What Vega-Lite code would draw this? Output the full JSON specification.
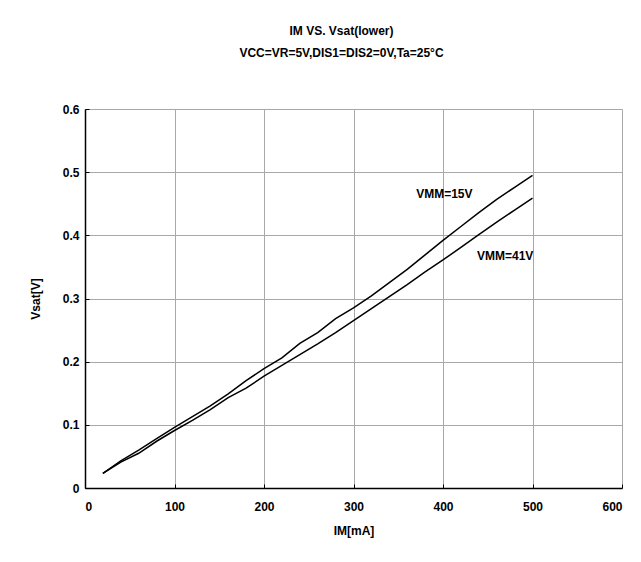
{
  "$schema": "https://vega.github.io/schema/vega-lite/v6.json",
  "width": 537,
  "height": 379,
  "autosize": {"type": "none"},
  "padding": {"left": 85, "top": 109, "right": 19, "bottom": 74},
  "background": "white",
  "config": {
    "view": {"stroke": null},
    "font": "Liberation Sans",
    "axis": {
      "labelFont": "Liberation Sans",
      "labelFontWeight": "bold",
      "labelFontSize": 12,
      "labelColor": "black",
      "titleFont": "Liberation Sans",
      "titleFontWeight": "bold",
      "titleFontSize": 12,
      "titleColor": "black",
      "gridColor": "#a8a8a8",
      "gridWidth": 1,
      "gridOpacity": 1,
      "domainColor": "black",
      "domainWidth": 1.5,
      "tickColor": "black",
      "tickSize": -4,
      "tickWidth": 1
    }
  },
  "title": {
    "text": ["IM VS. Vsat(lower)", "VCC=VR=5V,DIS1=DIS2=0V,Ta=25°C"],
    "font": "Liberation Sans",
    "fontSize": 12,
    "fontWeight": "bold",
    "color": "black",
    "anchor": "middle",
    "baseline": "bottom",
    "lineHeight": 22,
    "offset": 31,
    "dx": -12
  },
  "datasets": {
    "curves": [
      {"im": 20, "vsat": 0.023, "series": "VMM=15V"},
      {"im": 40, "vsat": 0.043, "series": "VMM=15V"},
      {"im": 60, "vsat": 0.060, "series": "VMM=15V"},
      {"im": 80, "vsat": 0.078, "series": "VMM=15V"},
      {"im": 100, "vsat": 0.096, "series": "VMM=15V"},
      {"im": 120, "vsat": 0.113, "series": "VMM=15V"},
      {"im": 140, "vsat": 0.130, "series": "VMM=15V"},
      {"im": 160, "vsat": 0.149, "series": "VMM=15V"},
      {"im": 180, "vsat": 0.170, "series": "VMM=15V"},
      {"im": 200, "vsat": 0.189, "series": "VMM=15V"},
      {"im": 220, "vsat": 0.206, "series": "VMM=15V"},
      {"im": 240, "vsat": 0.229, "series": "VMM=15V"},
      {"im": 260, "vsat": 0.246, "series": "VMM=15V"},
      {"im": 280, "vsat": 0.268, "series": "VMM=15V"},
      {"im": 300, "vsat": 0.285, "series": "VMM=15V"},
      {"im": 320, "vsat": 0.304, "series": "VMM=15V"},
      {"im": 340, "vsat": 0.325, "series": "VMM=15V"},
      {"im": 360, "vsat": 0.346, "series": "VMM=15V"},
      {"im": 380, "vsat": 0.369, "series": "VMM=15V"},
      {"im": 400, "vsat": 0.392, "series": "VMM=15V"},
      {"im": 420, "vsat": 0.414, "series": "VMM=15V"},
      {"im": 440, "vsat": 0.436, "series": "VMM=15V"},
      {"im": 460, "vsat": 0.457, "series": "VMM=15V"},
      {"im": 480, "vsat": 0.476, "series": "VMM=15V"},
      {"im": 500, "vsat": 0.495, "series": "VMM=15V"},
      {"im": 20, "vsat": 0.023, "series": "VMM=41V"},
      {"im": 40, "vsat": 0.041, "series": "VMM=41V"},
      {"im": 60, "vsat": 0.055, "series": "VMM=41V"},
      {"im": 80, "vsat": 0.074, "series": "VMM=41V"},
      {"im": 100, "vsat": 0.091, "series": "VMM=41V"},
      {"im": 120, "vsat": 0.107, "series": "VMM=41V"},
      {"im": 140, "vsat": 0.124, "series": "VMM=41V"},
      {"im": 160, "vsat": 0.143, "series": "VMM=41V"},
      {"im": 180, "vsat": 0.158, "series": "VMM=41V"},
      {"im": 200, "vsat": 0.177, "series": "VMM=41V"},
      {"im": 220, "vsat": 0.194, "series": "VMM=41V"},
      {"im": 240, "vsat": 0.211, "series": "VMM=41V"},
      {"im": 260, "vsat": 0.228, "series": "VMM=41V"},
      {"im": 280, "vsat": 0.246, "series": "VMM=41V"},
      {"im": 300, "vsat": 0.265, "series": "VMM=41V"},
      {"im": 320, "vsat": 0.284, "series": "VMM=41V"},
      {"im": 340, "vsat": 0.303, "series": "VMM=41V"},
      {"im": 360, "vsat": 0.322, "series": "VMM=41V"},
      {"im": 380, "vsat": 0.342, "series": "VMM=41V"},
      {"im": 400, "vsat": 0.361, "series": "VMM=41V"},
      {"im": 420, "vsat": 0.381, "series": "VMM=41V"},
      {"im": 440, "vsat": 0.401, "series": "VMM=41V"},
      {"im": 460, "vsat": 0.421, "series": "VMM=41V"},
      {"im": 480, "vsat": 0.440, "series": "VMM=41V"},
      {"im": 500, "vsat": 0.459, "series": "VMM=41V"}
    ],
    "labels": [
      {"im": 370, "vsat": 0.465, "label": "VMM=15V"},
      {"im": 438, "vsat": 0.367, "label": "VMM=41V"}
    ]
  },
  "layer": [
    {
      "data": {"name": "curves"},
      "mark": {"type": "line", "color": "black", "strokeWidth": 1.5},
      "encoding": {
        "x": {
          "field": "im", "type": "quantitative",
          "scale": {"domain": [0, 600], "nice": false},
          "axis": {"values": [0, 100, 200, 300, 400, 500, 600], "title": "IM[mA]", "labelPadding": 17, "titlePadding": 13, "format": "d"}
        },
        "y": {
          "field": "vsat", "type": "quantitative",
          "scale": {"domain": [0, 0.6], "nice": false},
          "axis": {"values": [0, 0.1, 0.2, 0.3, 0.4, 0.5, 0.6], "title": "Vsat[V]", "labelPadding": 10, "titlePadding": 20, "format": "~g"}
        },
        "detail": {"field": "series", "type": "nominal"}
      }
    },
    {
      "data": {"name": "labels"},
      "mark": {"type": "text", "align": "left", "baseline": "middle", "font": "Liberation Sans", "fontWeight": "bold", "fontSize": 12, "color": "black"},
      "encoding": {
        "x": {"field": "im", "type": "quantitative"},
        "y": {"field": "vsat", "type": "quantitative"},
        "text": {"field": "label"}
      }
    }
  ]
}
